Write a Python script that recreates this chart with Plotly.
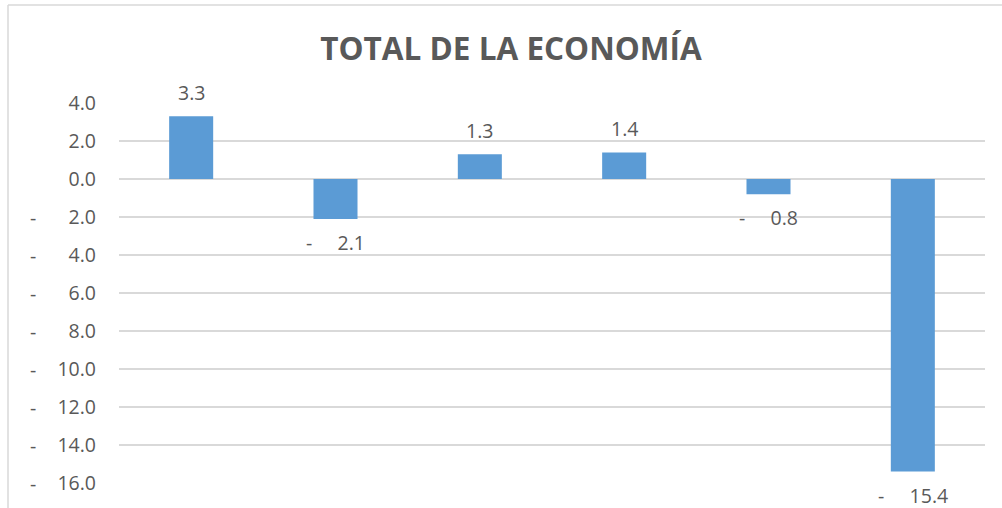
import plotly.graph_objects as go

categories = ["C1", "C2", "C3", "C4", "C5", "C6"]
values = [3.3, -2.1, 1.3, 1.4, -0.8, -15.4]
tick_values = [4, 2, 0, -2, -4, -6, -8, -10, -12, -14, -16]
title_text = "TOTAL DE LA ECONOMÍA"

NB = "\u00a0"
TXT = "#595959"
GRID = "#D9D9D9"
BAR = "#5B9BD5"
FONT = "Open Sans"
FS = 19.5

W, H = 1002, 508
ML, MR, MT, MB = 119, 17, 103, 25
pw, ph = W - ML - MR, H - MT - MB


def fmt_label(v):
    if v < 0:
        return "-" + NB * 5 + f"{abs(v):.1f}"
    return f"{v:.1f}"


fig = go.Figure()
fig.add_trace(go.Bar(
    x=categories, y=values,
    marker=dict(color=BAR, line=dict(width=0)),
    width=0.305,
    hoverinfo="skip",
))

annotations = []
for c, v in zip(categories, values):
    annotations.append(dict(
        x=c, y=v, xref="x", yref="y",
        text=fmt_label(v), showarrow=False,
        xanchor="center",
        yanchor="bottom" if v >= 0 else "top",
        yshift=8 if v >= 0 else -8,
        font=dict(family=FONT, size=FS, color=TXT),
    ))

# accounting-style minus signs on the y axis
for t in tick_values:
    if t < 0:
        annotations.append(dict(
            x=(33 - ML) / pw, y=t, xref="paper", yref="y",
            text="-", showarrow=False, xanchor="center", yanchor="middle",
            font=dict(family=FONT, size=FS, color=TXT),
        ))

tick_text = [f"{abs(t):.1f}" for t in tick_values]

shapes = [
    dict(type="line", xref="paper", yref="paper",
         x0=(8 - ML) / pw, x1=(W + 5 - ML) / pw,
         y0=(H - MB - 5) / ph, y1=(H - MB - 5) / ph,
         line=dict(color=GRID, width=1.5)),
    dict(type="line", xref="paper", yref="paper",
         x0=(8 - ML) / pw, x1=(8 - ML) / pw,
         y0=(H - MB - 5) / ph, y1=(H - MB - H - 5) / ph,
         line=dict(color=GRID, width=1.5)),
]

fig.update_layout(
    width=W, height=H,
    margin=dict(l=ML, r=MR, t=MT, b=MB, pad=0),
    paper_bgcolor="white", plot_bgcolor="white",
    showlegend=False,
    bargap=0.695,
    title=dict(
        text="<b>" + title_text + "</b>",
        x=(511 - ML) / pw, xref="paper", xanchor="center",
        y=1 - 49 / H, yref="container", yanchor="middle",
        font=dict(family=FONT, size=31.5, color=TXT),
    ),
    xaxis=dict(showticklabels=False, showgrid=False, zeroline=False,
               showline=False, ticks=""),
    yaxis=dict(range=[-16, 4], tickvals=tick_values, ticktext=tick_text,
               showgrid=True, gridcolor=GRID, gridwidth=1.5,
               zeroline=False, showline=False, ticks="",
               ticklabelstandoff=22,
               tickfont=dict(family=FONT, size=FS, color=TXT)),
    annotations=annotations,
    shapes=shapes,
)

fig.write_html("out.html", config={"displayModeBar": False},
               post_script="document.body.style.margin='0';")
